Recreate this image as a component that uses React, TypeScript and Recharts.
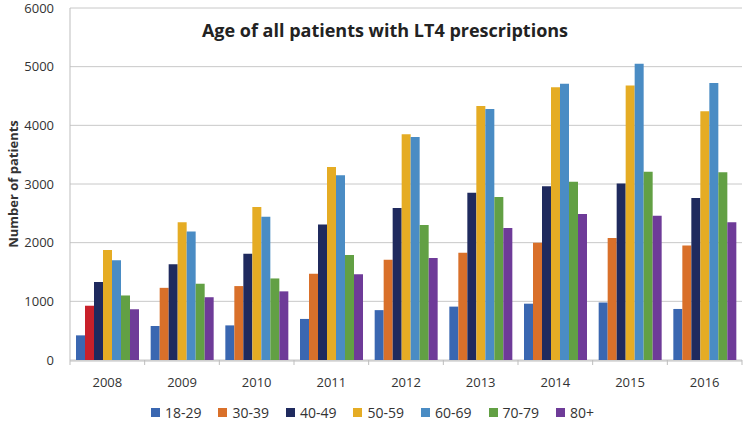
import React from 'react';
import { BarChart, Bar, XAxis, YAxis, CartesianGrid, Legend, Cell } from 'recharts';

const years = ['2008', '2009', '2010', '2011', '2012', '2013', '2014', '2015', '2016'];
const ageGroups = ['18-29', '30-39', '40-49', '50-59', '60-69', '70-79', '80+'];
const v18_29 = [420, 580, 590, 700, 850, 910, 960, 980, 870];
const v30_39 = [925, 1230, 1260, 1470, 1710, 1830, 2000, 2080, 1950];
const v40_49 = [1330, 1630, 1810, 2310, 2590, 2850, 2960, 3010, 2760];
const v50_59 = [1875, 2350, 2610, 3290, 3850, 4330, 4650, 4680, 4240];
const v60_69 = [1700, 2190, 2440, 3150, 3800, 4280, 4710, 5050, 4720];
const v70_79 = [1100, 1300, 1390, 1790, 2300, 2780, 3040, 3210, 3200];
const v80 = [865, 1070, 1170, 1460, 1740, 2250, 2490, 2460, 2350];
const yTicks = [0, 1000, 2000, 3000, 4000, 5000, 6000];
const boundaryTicks = [0, 1, 2, 3, 4, 5, 6, 7, 8, 9];
const colors = ['#3A67B1', '#D9702A', '#1F2A5E', '#E5AC24', '#4A8CC4', '#62A044', '#6E3B98'];
const highlightColor = '#C8202A';

const seriesValues = [v18_29, v30_39, v40_49, v50_59, v60_69, v70_79, v80];
const data = years.map((y, i) => {
  const row: Record<string, string | number> = { year: y, pos: i + 0.5 };
  ageGroups.forEach((g, k) => {
    row[g] = seriesValues[k][i];
  });
  return row;
});

const font = '"Open Sans", sans-serif';

const renderLegend = () => (
  <div style={{ display: 'flex', justifyContent: 'center', fontFamily: font, fontSize: 14, color: '#333', marginTop: 13, paddingLeft: 20 }}>
    {ageGroups.map((g, k) => (
      <span key={g} style={{ display: 'inline-flex', alignItems: 'center', marginRight: 17 }}>
        <span style={{ display: 'inline-block', width: 9, height: 9, background: colors[k], marginRight: 5 }} />
        {g}
      </span>
    ))}
  </div>
);

const EmptyTick = () => <g />;

export default function App() {
  return (
    <div style={{ position: 'absolute', left: 0, top: 0, width: 746, height: 423, background: '#fff' }}>
      <BarChart
        width={746}
        height={423}
        data={data}
        margin={{ top: 8, right: 4, bottom: 0, left: 0 }}
        barCategoryGap={6}
        barGap={0}
      >
        <CartesianGrid vertical={false} xAxisId="cat" stroke="#C8C8C8" strokeWidth={1} />
        <XAxis
          xAxisId="bounds"
          dataKey="pos"
          type="number"
          domain={[0, 9]}
          allowDataOverflow
          ticks={boundaryTicks}
          interval={0}
          height={1}
          tick={EmptyTick}
          tickLine={{ stroke: '#BDBDBD' }}
          tickSize={5}
          axisLine={false}
        />
        <XAxis
          xAxisId="cat"
          dataKey="year"
          height={29}
          tick={{ fontFamily: font, fontSize: 13, fill: '#333' }}
          tickLine={false}
          axisLine={{ stroke: '#BDBDBD' }}
          tickMargin={11}
        />
        <YAxis
          width={70}
          domain={[0, 6000]}
          ticks={yTicks}
          interval={0}
          tick={{ fontFamily: font, fontSize: 13, fill: '#333' }}
          tickLine={false}
          axisLine={{ stroke: '#BDBDBD' }}
          tickMargin={10}
          label={{ value: 'Number of patients', angle: -90, position: 'insideLeft', offset: 13, style: { fontFamily: font, fontSize: 13, fontWeight: 700, fill: '#333', textAnchor: 'middle' } }}
        />
        <Legend verticalAlign="bottom" height={33} content={renderLegend} />
        {ageGroups.map((g, k) => (
          <Bar key={g} dataKey={g} xAxisId="cat" fill={colors[k]} isAnimationActive={false}>
            {k === 1
              ? years.map((y, i) => <Cell key={y} fill={i === 0 ? highlightColor : colors[k]} />)
              : null}
          </Bar>
        ))}
        <text x={385} y={37} textAnchor="middle" style={{ fontFamily: font, fontSize: 18, fontWeight: 700, fill: '#222' }}>
          Age of all patients with LT4 prescriptions
        </text>
      </BarChart>
    </div>
  );
}
